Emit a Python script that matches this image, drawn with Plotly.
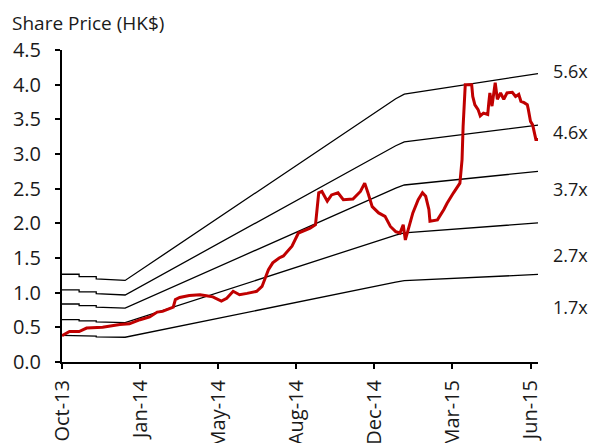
import plotly.graph_objects as go

# ---- data (x = trading-day index) ----
tick_idx = [0, 73, 146, 219, 292, 365, 438]
tick_labels = ["Oct-13", "Jan-14", "May-14", "Aug-14", "Dec-14", "Mar-15", "Jun-15"]

price_idx = [0, 7, 16, 21, 23, 38, 45, 54, 63, 73, 82, 89, 94, 104, 106, 110, 119, 129, 135, 141,
             149, 154, 160, 166, 173, 182, 187, 190, 193, 197, 203, 207, 215, 221, 232, 237, 240, 243,
             248, 252, 258, 263, 272, 279, 283, 286, 290, 296, 302, 307, 312, 316, 319, 321, 323, 328,
             333, 337, 340, 343, 344, 351, 357, 360, 366, 372, 374, 375, 377, 383, 384, 386, 389, 391,
             394, 398, 399, 400, 402, 405, 407, 410, 413, 416, 421, 424, 427, 429, 432, 435, 436, 438,
             440, 441, 443, 445]
price = [0.38, 0.44, 0.44, 0.48, 0.49, 0.50, 0.52, 0.54, 0.55, 0.61, 0.65, 0.72, 0.73, 0.79, 0.90, 0.93,
         0.96, 0.97, 0.955, 0.94, 0.88, 0.92, 1.02, 0.97, 0.99, 1.02, 1.09, 1.21, 1.33, 1.43, 1.50, 1.53,
         1.67, 1.86, 1.93, 1.98, 2.44, 2.46, 2.32, 2.41, 2.44, 2.34, 2.35, 2.46, 2.58, 2.44, 2.24, 2.15,
         2.10, 1.955, 1.88, 1.86, 1.98, 1.76, 1.88, 2.15, 2.34, 2.44, 2.39, 2.20, 2.03, 2.05, 2.20, 2.29,
         2.44, 2.58, 2.92, 3.40, 4.00, 4.00, 3.83, 3.71, 3.64, 3.55, 3.59, 3.57, 3.74, 3.88, 3.69, 4.03,
         3.79, 3.88, 3.79, 3.88, 3.89, 3.83, 3.86, 3.76, 3.74, 3.71, 3.64, 3.47, 3.42, 3.33, 3.21, 3.21]

eps_idx = [0, 16, 16, 32, 32, 59, 312, 320, 445]
eps = [0.226, 0.226, 0.220, 0.220, 0.214, 0.210, 0.678, 0.690, 0.743]

multiples = [5.6, 4.6, 3.7, 2.7, 1.7]
band_labels = ["5.6x", "4.6x", "3.7x", "2.7x", "1.7x"]

FONT = "Open Sans"
RED = "#C00000"
TXT = "#1a1a1a"

fig = go.Figure()
for m in multiples:
    fig.add_trace(go.Scatter(x=eps_idx, y=[m * e for e in eps], mode="lines",
                             line=dict(color="black", width=1.3), showlegend=False,
                             hoverinfo="skip", cliponaxis=False))
fig.add_trace(go.Scatter(x=price_idx, y=price, mode="lines",
                         line=dict(color=RED, width=3), showlegend=False, cliponaxis=False))

label_y = [4.19, 3.32, 2.50, 1.55, 0.79]
annotations = [dict(text=t, x=1.028, xref="paper", y=yv, yref="y", xanchor="left",
                    yanchor="middle", showarrow=False, font=dict(family=FONT, size=18, color=TXT))
               for t, yv in zip(band_labels, label_y)]
annotations.append(dict(text="Share Price (HK$)", x=-0.109, xref="paper", y=1.087, yref="paper",
                        xanchor="left", yanchor="middle", showarrow=False,
                        font=dict(family=FONT, size=19, color=TXT)))

# page body has an 8px default margin, so the figure is sized/offset to compensate
fig.update_layout(
    width=590, height=435,
    margin=dict(l=54, r=60, t=42, b=81, autoexpand=False),
    paper_bgcolor="white", plot_bgcolor="white",
    font=dict(family=FONT, size=20, color=TXT),
    annotations=annotations,
    xaxis=dict(range=[0, 445], tickvals=tick_idx, ticktext=tick_labels, tickangle=-90,
               showline=True, linecolor="black", linewidth=2, ticks="outside", ticklen=5,
               tickcolor="black", tickwidth=1.5, showgrid=False, zeroline=False, automargin=False,
               ticklabelstandoff=3),
    yaxis=dict(range=[0, 4.5], tickvals=[i * 0.5 for i in range(10)], tickformat=".1f",
               showline=True, linecolor="black", linewidth=2, ticks="outside", ticklen=5,
               tickcolor="black", tickwidth=1.5, showgrid=False, zeroline=False, automargin=False,
               ticklabelstandoff=10),
)

fig.write_html("out.html")
